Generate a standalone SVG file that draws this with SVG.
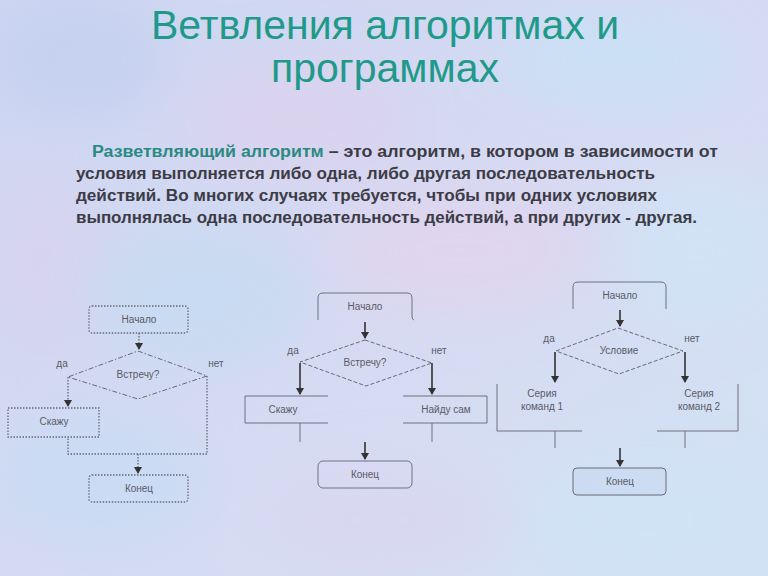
<svg xmlns="http://www.w3.org/2000/svg" width="768" height="576" viewBox="0 0 768 576">
<defs>
<style>
.title{font-family:"Liberation Sans",Arial,sans-serif;font-size:41px;fill:#1f9a8a;text-anchor:middle}
.para{font-family:"Liberation Sans",Arial,sans-serif;font-size:16px;font-weight:bold;fill:#3c3c46}
.hl{fill:#2a8a82}
.lbl{font-family:"Liberation Sans",Arial,sans-serif;font-size:10px;fill:#5a5a66;text-anchor:middle}
.dot{fill:none;stroke:#6a6a78;stroke-width:1.3;stroke-dasharray:1.5 1.5}
.dashd{fill:none;stroke:#6a6a78;stroke-width:1;stroke-dasharray:5 2 1.5 2}
.dsh{fill:none;stroke:#6a6a78;stroke-width:1;stroke-dasharray:4 2}
.ln{fill:none;stroke:#707080;stroke-width:1}
.ar{fill:none;stroke:#333;stroke-width:1.6}
</style>
<marker id="ah" markerWidth="8" markerHeight="8" refX="6" refY="4" orient="auto" markerUnits="userSpaceOnUse">
<path d="M0,0 L7,4 L0,8 Z" fill="#333"/>
</marker>
<filter id="blur" x="-20%" y="-20%" width="140%" height="140%"><feGaussianBlur stdDeviation="28"/></filter>
<linearGradient id="bg" x1="0" y1="0" x2="1" y2="1">
<stop offset="0" stop-color="#cdd6f2"/>
<stop offset="0.5" stop-color="#d6daf2"/>
<stop offset="1" stop-color="#d2e2f4"/>
</linearGradient>
</defs>
<rect width="768" height="576" fill="url(#bg)"/>
<g filter="url(#blur)" opacity="0.8">
<ellipse cx="80" cy="60" rx="90" ry="60" fill="#c4d0f0"/>
<ellipse cx="300" cy="120" rx="120" ry="60" fill="#dcd2ee"/>
<ellipse cx="620" cy="60" rx="120" ry="50" fill="#c8e2f6"/>
<ellipse cx="200" cy="300" rx="110" ry="70" fill="#c6dcf2"/>
<ellipse cx="460" cy="250" rx="130" ry="60" fill="#e2d4ee"/>
<ellipse cx="700" cy="250" rx="80" ry="70" fill="#d0e4f6"/>
<ellipse cx="100" cy="480" rx="110" ry="70" fill="#c8dcf4"/>
<ellipse cx="380" cy="520" rx="120" ry="50" fill="#dad6f0"/>
<ellipse cx="650" cy="520" rx="110" ry="60" fill="#cfe4f6"/>
<ellipse cx="40" cy="260" rx="50" ry="90" fill="#d8d2ee"/>
</g>
<g id="title">
<text class="title" x="385" y="39">Ветвления алгоритмах и</text>
<text class="title" x="385" y="82">программах</text>
</g>
<g id="definition">
<text class="para" x="92" y="157" textLength="626" lengthAdjust="spacingAndGlyphs"><tspan class="hl">Разветвляющий алгоритм</tspan> – это алгоритм, в котором в зависимости от</text>
<text class="para" x="76" y="179" textLength="579" lengthAdjust="spacingAndGlyphs">условия выполняется либо одна, либо другая последовательность</text>
<text class="para" x="76" y="201" textLength="581" lengthAdjust="spacingAndGlyphs">действий. Во многих случаях требуется, чтобы при одних условиях</text>
<text class="para" x="76" y="223" textLength="621" lengthAdjust="spacingAndGlyphs">выполнялась одна последовательность действий, а при других - другая.</text>
</g>

<!-- Diagram 1 -->
<g id="d1-start"><rect class="dot" x="89" y="306" width="99" height="27" rx="3"/><text class="lbl" x="139" y="323">Начало</text></g>
<g id="d1-cond"><polygon class="dashd" points="138,351 207,376 138,399 68,377"/><text class="lbl" x="138" y="378">Встречу?</text>
<text class="lbl" x="62" y="367">да</text><text class="lbl" x="216" y="367">нет</text></g>
<g id="d1-say"><rect class="dot" x="8" y="408" width="91" height="29"/><text class="lbl" x="54" y="425">Скажу</text></g>
<g id="d1-end"><rect class="dot" x="89" y="475" width="99" height="27" rx="3"/><text class="lbl" x="139" y="492">Конец</text></g>

<!-- Diagram 2 -->
<g id="d2-start"><path class="ln" d="M318,320 Q318,320 318,316 L318,298 Q318,293 323,293 L407,293 Q412,293 412,298 L412,316 Q412,320 414,320"/><text class="lbl" x="365" y="310">Начало</text></g>
<g id="d2-cond"><polygon class="dsh" points="365,340 432,363 366,386 300,362"/><text class="lbl" x="365" y="366">Встречу?</text>
<text class="lbl" x="293" y="354">да</text><text class="lbl" x="439" y="354">нет</text></g>
<g id="d2-say"><path class="ln" d="M328,396 L245,396 L245,423 L328,423"/><text class="lbl" x="283" y="413">Скажу</text></g>
<g id="d2-self"><path class="ln" d="M403,396 L487,396 L487,423 L403,423"/><text class="lbl" x="446" y="413">Найду сам</text></g>
<g id="d2-end"><rect class="ln" x="318" y="461" width="94" height="27" rx="5"/><text class="lbl" x="365" y="478">Конец</text></g>

<!-- Diagram 3 -->
<g id="d3-start"><path class="ln" d="M573,309 L573,287 Q573,282 578,282 L661,282 Q666,282 666,287 L666,309"/><text class="lbl" x="620" y="299">Начало</text></g>
<g id="d3-cond"><polygon class="dsh" points="618,328 683,351 619,374 556,351"/><text class="lbl" x="619" y="354">Условие</text>
<text class="lbl" x="549" y="342">да</text><text class="lbl" x="692" y="342">нет</text></g>
<g id="d3-s1"><path class="ln" d="M497,384 L497,431 L582,431"/><text class="lbl" x="542" y="397">Серия</text><text class="lbl" x="542" y="410">команд 1</text></g>
<g id="d3-s2"><path class="ln" d="M738,384 L738,431 L657,431"/><text class="lbl" x="699" y="397">Серия</text><text class="lbl" x="699" y="410">команд 2</text></g>
<g id="d3-end"><rect x="573" y="468" width="93" height="27" rx="4" fill="#c8d6f0" fill-opacity="0.5" stroke="#6a6a78" stroke-width="1"/><text class="lbl" x="620" y="485">Конец</text></g>

<g id="connectors">
<!-- d1 -->
<path class="dot" d="M139,333 L139,349" marker-end="url(#ah)"/>
<path class="dot" d="M68,377 L68,406" marker-end="url(#ah)"/>
<path class="dot" d="M207,376 L207,454 L68,454 L68,437"/>
<path class="dot" d="M138,454 L138,473" marker-end="url(#ah)"/>
<!-- d2 -->
<path class="ar" d="M365,322 L365,338" marker-end="url(#ah)"/>
<path class="ar" d="M300,363 L300,394" marker-end="url(#ah)"/>
<path class="ar" d="M432,363 L432,394" marker-end="url(#ah)"/>
<path class="ln" d="M300,423 L300,442"/>
<path class="ln" d="M432,423 L432,442"/>
<path class="ar" d="M365,442 L365,459" marker-end="url(#ah)"/>
<!-- d3 -->
<path class="ar" d="M620,310 L620,326" marker-end="url(#ah)"/>
<path class="ar" d="M555,352 L555,382" marker-end="url(#ah)"/>
<path class="ar" d="M685,352 L685,382" marker-end="url(#ah)"/>
<path class="ln" d="M555,431 L555,448"/>
<path class="ln" d="M685,431 L685,448"/>
<path class="ar" d="M620,448 L620,466" marker-end="url(#ah)"/>
</g>
</svg>
